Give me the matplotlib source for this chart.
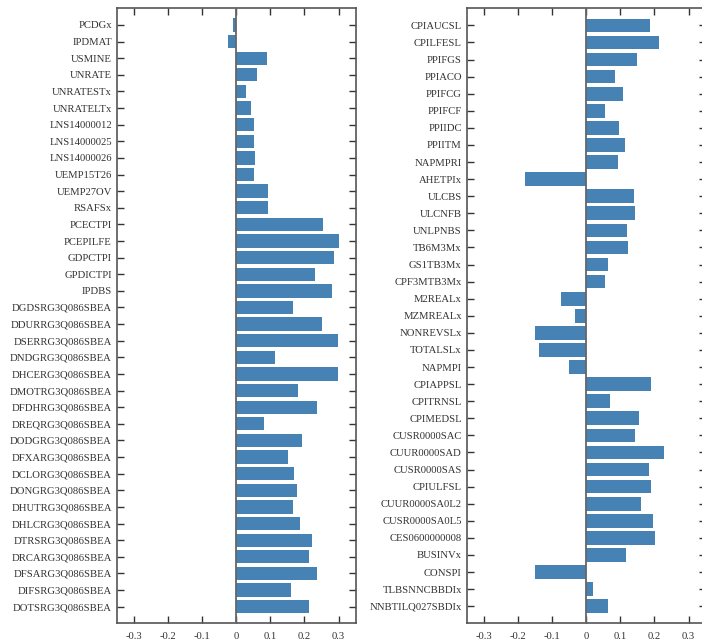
import matplotlib
matplotlib.use('Agg')
import matplotlib.pyplot as plt
from matplotlib.ticker import FuncFormatter

plt.rcParams['font.family'] = ['Liberation Serif', 'DejaVu Serif']
plt.rcParams['axes.unicode_minus'] = False

left_names = ['PCDGx', 'IPDMAT', 'USMINE', 'UNRATE', 'UNRATESTx', 'UNRATELTx',
              'LNS14000012', 'LNS14000025', 'LNS14000026', 'UEMP15T26', 'UEMP27OV',
              'RSAFSx', 'PCECTPI', 'PCEPILFE', 'GDPCTPI', 'GPDICTPI', 'IPDBS',
              'DGDSRG3Q086SBEA', 'DDURRG3Q086SBEA', 'DSERRG3Q086SBEA', 'DNDGRG3Q086SBEA',
              'DHCERG3Q086SBEA', 'DMOTRG3Q086SBEA', 'DFDHRG3Q086SBEA', 'DREQRG3Q086SBEA',
              'DODGRG3Q086SBEA', 'DFXARG3Q086SBEA', 'DCLORG3Q086SBEA', 'DONGRG3Q086SBEA',
              'DHUTRG3Q086SBEA', 'DHLCRG3Q086SBEA', 'DTRSRG3Q086SBEA', 'DRCARG3Q086SBEA',
              'DFSARG3Q086SBEA', 'DIFSRG3Q086SBEA', 'DOTSRG3Q086SBEA']
left_values = [-0.008, -0.023, 0.091, 0.061, 0.029, 0.044,
               0.053, 0.053, 0.056, 0.053, 0.094,
               0.094, 0.254, 0.301, 0.287, 0.231, 0.281,
               0.167, 0.251, 0.298, 0.114,
               0.298, 0.181, 0.237, 0.082,
               0.193, 0.152, 0.170, 0.178,
               0.167, 0.187, 0.222, 0.213,
               0.237, 0.161, 0.213]

right_names = ['CPIAUCSL', 'CPILFESL', 'PPIFGS', 'PPIACO', 'PPIFCG', 'PPIFCF', 'PPIIDC',
               'PPIITM', 'NAPMPRI', 'AHETPIx', 'ULCBS', 'ULCNFB', 'UNLPNBS', 'TB6M3Mx',
               'GS1TB3Mx', 'CPF3MTB3Mx', 'M2REALx', 'MZMREALx', 'NONREVSLx', 'TOTALSLx',
               'NAPMPI', 'CPIAPPSL', 'CPITRNSL', 'CPIMEDSL', 'CUSR0000SAC', 'CUUR0000SAD',
               'CUSR0000SAS', 'CPIULFSL', 'CUUR0000SA0L2', 'CUSR0000SA0L5', 'CES0600000008',
               'BUSINVx', 'CONSPI', 'TLBSNNCBBDIx', 'NNBTILQ027SBDIx']
right_values = [0.187, 0.214, 0.150, 0.085, 0.109, 0.056, 0.097,
                0.115, 0.094, -0.180, 0.141, 0.144, 0.120, 0.123,
                0.065, 0.056, -0.075, -0.034, -0.150, -0.139,
                -0.049, 0.190, 0.071, 0.155, 0.144, 0.228,
                0.184, 0.190, 0.161, 0.196, 0.202,
                0.117, -0.150, 0.021, 0.065]

x_ticks = [-0.3, -0.2, -0.1, 0, 0.1, 0.2, 0.3]

W, H = 702, 641
fig = plt.figure(figsize=(W / 100, H / 100), dpi=100)

# axes boxes in pixels (left, top, right, bottom); right panel runs past the edge
boxes = [(116.7, 8.3, 355.7, 623.3), (466.7, 8.3, 705.7, 623.3)]
panels = [(left_names, left_values), (right_names, right_values)]

for (x0, y0, x1, y1), (names, values) in zip(boxes, panels):
    ax = fig.add_axes([x0 / W, 1 - y1 / H, (x1 - x0) / W, (y1 - y0) / H])
    pos = list(range(len(names)))
    ax.barh(pos, values, height=0.8, color='#4682b4', zorder=2)
    ax.axvline(0, color='#666666', lw=1.3, zorder=3)
    ax.set_yticks(pos)
    ax.set_yticklabels(names)
    ax.set_ylim(len(names), -1)
    ax.set_xlim(-0.35, 0.35)
    ax.set_xticks(x_ticks)
    ax.xaxis.set_major_formatter(FuncFormatter(lambda v, p: '%g' % round(v, 2)))
    ax.tick_params(direction='in', top=True, right=True, length=5, width=1,
                   color='#333333', labelsize=7.7, labelcolor='#333333')
    ax.tick_params(axis='x', pad=6)
    ax.tick_params(axis='y', pad=3.5)
    for s in ax.spines.values():
        s.set_color('#555555')
        s.set_linewidth(1.2)

fig.savefig('out.png', dpi=100)
